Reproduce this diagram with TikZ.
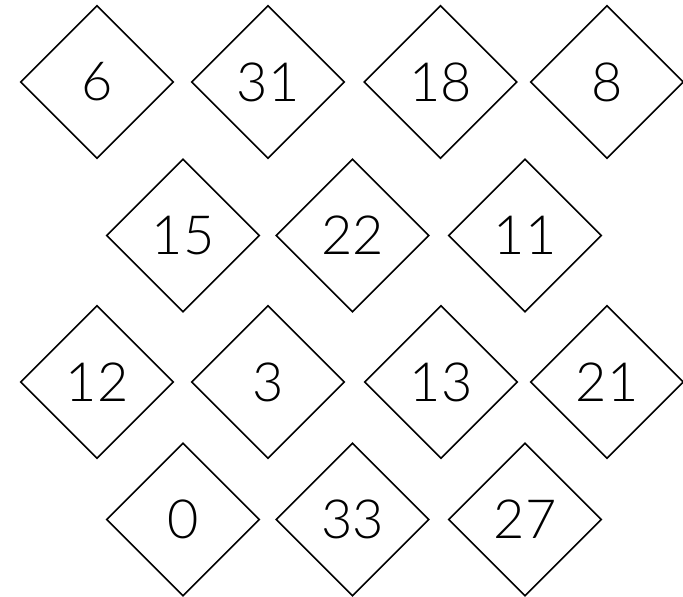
\documentclass[tikz,border=0pt]{standalone}
\usepackage{fontspec}
\setmainfont{Lato Light}
\usetikzlibrary{shapes.geometric}
\begin{document}
\begin{tikzpicture}[x=1pt,y=-1pt,
  tile/.style={diamond, draw=black, line width=1.6pt, minimum width=153pt, minimum height=153pt,
    inner sep=0pt, font=\fontsize{54}{60}\selectfont, fill=white}]
\useasboundingbox (0,0) rectangle (683,597);
\fill[white] (0,0) rectangle (683,597);
% row 1
\node[tile] (n6)  at (97,82)    {6};
\node[tile] (n31) at (268,82)   {31};
\node[tile] (n18) at (440.5,82) {18};
\node[tile] (n8)  at (607,82)   {8};
% row 2
\node[tile] (n15) at (183,235.5)   {15};
\node[tile] (n22) at (352.5,235.5) {22};
\node[tile] (n11) at (525,235.5)   {11};
% row 3
\node[tile] (n12) at (97,382)   {12};
\node[tile] (n3)  at (268,382)  {3};
\node[tile] (n13) at (441,382)  {13};
\node[tile] (n21) at (607,382)  {21};
% row 4
\node[tile] (n0)  at (183,519.5)   {0};
\node[tile] (n33) at (352.5,519.5) {33};
\node[tile] (n27) at (525,519.5)   {27};
\end{tikzpicture}
\end{document}
